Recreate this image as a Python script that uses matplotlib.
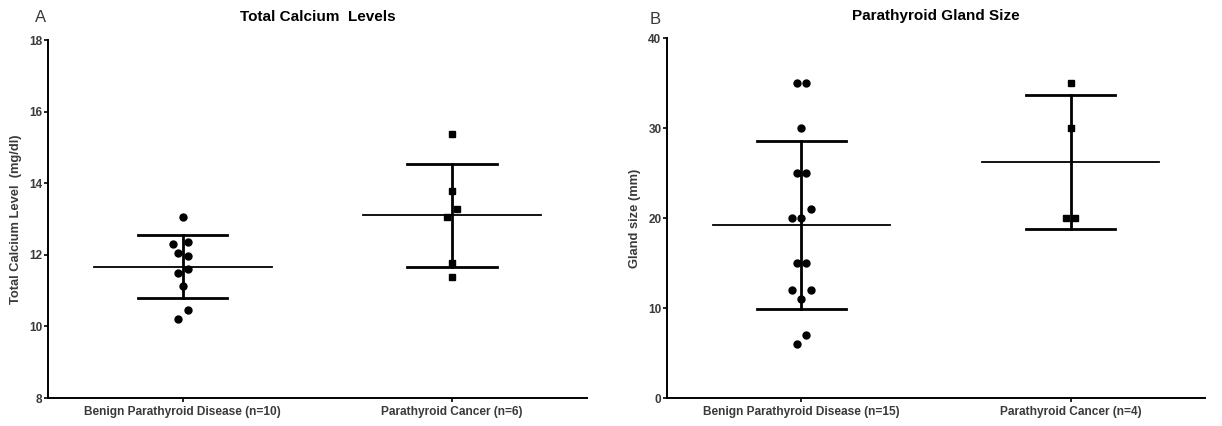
import matplotlib.pyplot as plt
import numpy as np

plt.rcParams['font.family'] = ['Liberation Sans', 'DejaVu Sans']

# Panel A: total calcium (mg/dl)
calcium_labels = ["Benign Parathyroid Disease (n=10)", "Parathyroid Cancer (n=6)"]
calcium_benign = [13.06, 12.30, 12.37, 12.06, 11.97, 11.60, 11.48, 11.13, 10.46, 10.21]
calcium_cancer = [15.37, 13.78, 13.28, 13.06, 11.76, 11.37]

# Panel B: gland size (mm)
size_labels = ["Benign Parathyroid Disease (n=15)", "Parathyroid Cancer (n=4)"]
size_benign = [35, 35, 30, 25, 25, 21, 20, 20, 15, 15, 12, 12, 11, 7, 6]
size_cancer = [35, 30, 20, 20]

# horizontal scatter slots (like the prism column scatter)
slots_calcium_benign = [0, -2, 1, -1, 1, 1, -1, 0, 1, -1]
slots_calcium_cancer = [0, 0, 1, -1, 0, 0]
slots_size_benign = [-1, 1, 0, -1, 1, 2, -2, 0, -1, 1, -2, 2, 0, 1, -1]
slots_size_cancer = [0, 0, -1, 1]

STEP = 0.018
TXT = '#3a3a3a'


def column(ax, pos, vals, slots, marker, ms):
    vals = np.array(vals)
    x = pos + np.array(slots) * STEP
    ax.plot(x, vals, linestyle='none', marker=marker, color='black', markersize=ms, zorder=3)
    m = vals.mean()
    sd = vals.std(ddof=1)
    ax.plot([pos - 0.33, pos + 0.33], [m, m], color='black', lw=1.3, zorder=2)
    ax.plot([pos, pos], [m - sd, m + sd], color='black', lw=2.0, zorder=2)
    for y in (m - sd, m + sd):
        ax.plot([pos - 0.166, pos + 0.166], [y, y], color='black', lw=2.0, zorder=2)


def style(ax, labels, ylim, yticks, ylabel, title, tpad):
    ax.set_xlim(-0.5, 1.5)
    ax.set_ylim(*ylim)
    ax.set_yticks(yticks)
    ax.set_xticks([0, 1])
    ax.set_xticklabels(labels, fontsize=8.6, fontweight='bold', color=TXT)
    for lab in ax.get_yticklabels():
        lab.set_fontsize(8.5)
        lab.set_fontweight('bold')
        lab.set_color(TXT)
    ax.spines['top'].set_visible(False)
    ax.spines['right'].set_visible(False)
    ax.spines['left'].set_linewidth(1.4)
    ax.spines['bottom'].set_linewidth(1.4)
    ax.tick_params(axis='y', length=3, width=1.2, pad=1)
    ax.tick_params(axis='x', length=3, width=1.2, pad=3)
    ax.set_ylabel(ylabel, fontsize=9.3, color=TXT, fontweight='bold', labelpad=5)
    ax.set_title(title, fontsize=11, fontweight='bold', pad=tpad)


fig = plt.figure(figsize=(12.22, 4.26), dpi=100)

ax1 = fig.add_axes([0.0393, 0.0657, 0.441, 0.840])
column(ax1, 0, calcium_benign, slots_calcium_benign, 'o', 5)
column(ax1, 1, calcium_cancer, slots_calcium_cancer, 's', 4.2)
style(ax1, calcium_labels, (8, 18), [8, 10, 12, 14, 16, 18],
      "Total Calcium Level  (mg/dl)", "Total Calcium  Levels", 14)
fig.text(0.029, 0.948, "A", fontsize=12, color=TXT)

ax2 = fig.add_axes([0.5458, 0.0657, 0.4403, 0.8444])
column(ax2, 0, size_benign, slots_size_benign, 'o', 5)
column(ax2, 1, size_cancer, slots_size_cancer, 's', 4.2)
style(ax2, size_labels, (0, 40), [0, 10, 20, 30, 40],
      "Gland size (mm)", "Parathyroid Gland Size", 13)
fig.text(0.532, 0.943, "B", fontsize=12, color=TXT)

fig.savefig("out.png", dpi=100)
